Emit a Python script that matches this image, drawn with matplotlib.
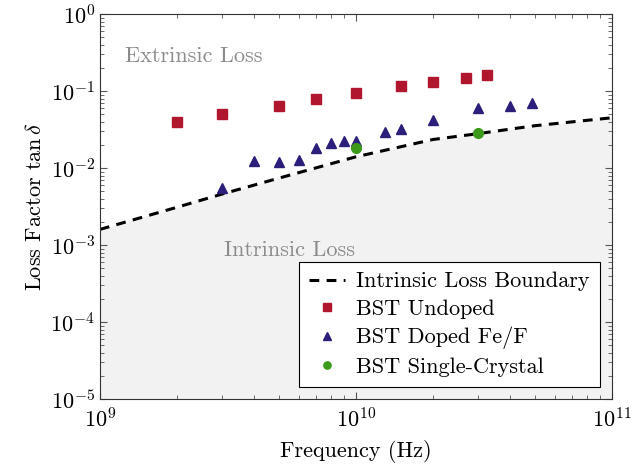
import matplotlib
matplotlib.use("Agg")
import matplotlib.pyplot as plt
import numpy as np

plt.rcParams['font.family'] = 'serif'
plt.rcParams['font.serif'] = ['cmr10', 'DejaVu Serif']
plt.rcParams['mathtext.fontset'] = 'cm'
plt.rcParams['axes.formatter.use_mathtext'] = True

# intrinsic loss boundary
bound_f = [1e9, 2e9, 3e9, 5e9, 1e10, 2e10, 3e10, 5e10, 1e11]
bound_tan = [1.6e-3, 3.1e-3, 4.6e-3, 7.4e-3, 1.4e-2, 2.35e-2, 2.8e-2, 3.55e-2, 4.5e-2]

# BST undoped
undoped_f = [2e9, 3e9, 5e9, 7e9, 1e10, 1.5e10, 2e10, 2.7e10, 3.25e10]
undoped_tan = [0.040, 0.050, 0.064, 0.079, 0.095, 0.117, 0.130, 0.148, 0.162]

# BST doped Fe/F
doped_f = [3e9, 4e9, 5e9, 6e9, 7e9, 8e9, 9e9, 1e10, 1.3e10, 1.5e10, 2e10, 3e10, 4e10, 4.9e10]
doped_tan = [0.0055, 0.0122, 0.012, 0.0128, 0.0185, 0.021, 0.0225, 0.0225,
             0.0296, 0.0324, 0.0415, 0.061, 0.064, 0.0697]

# BST single crystal
crystal_f = [1e10, 3e10]
crystal_tan = [0.0185, 0.0285]

fig = plt.figure(figsize=(6.32, 4.68), dpi=100)
ax = fig.add_axes([0.158, 0.147, 0.81, 0.823])

ax.fill_between(bound_f, bound_tan, 1e-5, color='#f2f2f2', linewidth=0, zorder=0)
ax.plot(bound_f, bound_tan, color='black', linestyle=(0, (3.2, 2.4)), linewidth=2.2,
        label='Intrinsic Loss Boundary', zorder=2)
ax.plot(undoped_f, undoped_tan, 's', color='#b0172e', markersize=7, label='BST Undoped', zorder=3)
ax.plot(doped_f, doped_tan, '^', color='#2c1f7c', markersize=7.5, label='BST Doped Fe/F', zorder=3)
ax.plot(crystal_f, crystal_tan, 'o', color='#3c9a1b', markersize=7, label='BST Single-Crystal', zorder=4)

ax.text(1.25e9, 0.28, 'Extrinsic Loss', color='#8c8c8c', fontsize=16, va='center', ha='left')
ax.text(3.05e9, 8.5e-4, 'Intrinsic Loss', color='#8c8c8c', fontsize=16, va='center', ha='left')

ax.set_xscale('log')
ax.set_yscale('log')
ax.set_xlim(1e9, 1e11)
ax.set_ylim(1e-5, 1e0)

ax.tick_params(which='both', direction='in', top=True, right=True, colors='#555555',
               labelcolor='black', labelsize=16)
ax.tick_params(which='major', length=5)
ax.tick_params(which='minor', length=3)
ax.tick_params(axis='x', which='major', pad=6)
for s in ax.spines.values():
    s.set_color('#333333')

ax.set_xlabel('Frequency (Hz)', fontsize=16, labelpad=6)
ax.set_ylabel(r'Loss Factor $\tan\delta$', fontsize=16)

leg = ax.legend(loc='lower right', fontsize=16, frameon=True, fancybox=False,
                edgecolor='black', framealpha=1, borderaxespad=0.55, borderpad=0.45,
                handlelength=1.6, handletextpad=0.5, labelspacing=0.36, markerscale=0.75)
leg.get_frame().set_linewidth(0.8)

fig.savefig('out.png', dpi=100)
